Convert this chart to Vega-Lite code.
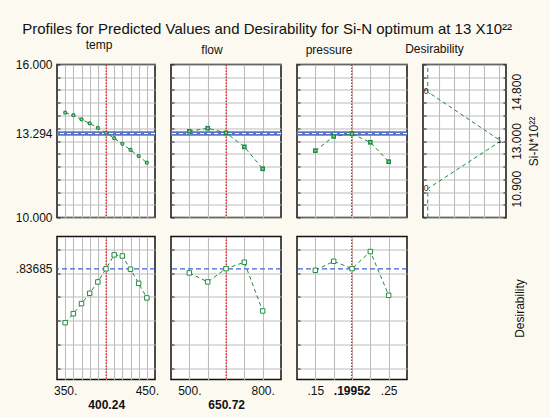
{
  "$schema": "https://vega.github.io/schema/vega-lite/v6.json",
  "background": "#FCF9F0",
  "padding": {"left": 14, "top": 21.5, "right": 10, "bottom": 5},
  "title": {"text": "Profiles for Predicted Values and Desirability for Si-N optimum at 13 X10²²", "fontSize": 15, "fontWeight": "normal", "font": "Liberation Sans", "color": "#111111", "anchor": "middle", "dx": -10, "offset": 1},
  "datasets": {
    "temp": [
      {"x": 350, "si": 14.11, "des": 0.383},
      {"x": 360, "si": 14.01, "des": 0.459},
      {"x": 370, "si": 13.85, "des": 0.544},
      {"x": 380, "si": 13.69, "des": 0.631},
      {"x": 390, "si": 13.51, "des": 0.727},
      {"x": 400, "si": 13.32, "des": 0.837},
      {"x": 410, "si": 13.11, "des": 0.955},
      {"x": 420, "si": 12.89, "des": 0.946},
      {"x": 430, "si": 12.65, "des": 0.834},
      {"x": 440, "si": 12.41, "des": 0.715},
      {"x": 450, "si": 12.15, "des": 0.592}
    ],
    "flow": [
      {"x": 500, "si": 13.38, "des": 0.803},
      {"x": 575, "si": 13.5, "des": 0.727},
      {"x": 650, "si": 13.32, "des": 0.839},
      {"x": 725, "si": 12.77, "des": 0.893},
      {"x": 800, "si": 11.91, "des": 0.482}
    ],
    "pressure": [
      {"x": 0.15, "si": 12.62, "des": 0.825},
      {"x": 0.175, "si": 13.18, "des": 0.901},
      {"x": 0.2, "si": 13.28, "des": 0.839},
      {"x": 0.225, "si": 12.95, "des": 0.983},
      {"x": 0.25, "si": 12.19, "des": 0.614}
    ],
    "opt": [{"temp": 400.24, "flow": 650.72, "pressure": 0.19952, "si": 13.294, "des": 0.83685}],
    "dfun": [
      {"i": 0, "d": 0, "si": 10},
      {"i": 1, "d": 0, "si": 11.13},
      {"i": 2, "d": 1, "si": 13},
      {"i": 3, "d": 0, "si": 14.93},
      {"i": 4, "d": 0, "si": 16}
    ],
    "dlab": [
      {"d": 0, "si": 11.13, "lab": "0."},
      {"d": 1, "si": 13, "lab": "1."},
      {"d": 0, "si": 14.93, "lab": "0."}
    ]
  },
  "columns": 4,
  "align": "each",
  "bounds": "flush",
  "spacing": {"row": 19, "column": 16},
  "concat": [
    {
      "width": 98, "height": 153,
      "title": {"text": "temp", "fontSize": 12, "fontWeight": "normal", "dx": -7, "offset": 7, "anchor": "middle"},
      "layer": [
        {"data": {"name": "opt"}, "mark": {"type": "rule", "color": "#5a74c6", "strokeWidth": 4.5},
         "encoding": {"y": {"field": "si", "type": "quantitative", "title": null, "scale": {"domain": [10, 16], "nice": false, "zero": false},
           "axis": {"values": [10, 10.5, 11, 11.5, 12, 12.5, 13, 13.5, 14, 14.5, 15, 15.5, 16, 13.294], "tickCount": 1000, "labelExpr": "datum.value == 10 || datum.value == 16 || datum.value == 13.294 ? format(datum.value, '.3f') : ''", "labelOverlap": false, "gridOpacity": {"condition": {"test": "datum.value == 13.294", "value": 0}, "value": 1}, "tickOpacity": {"condition": {"test": "datum.value == 13.294", "value": 0}, "value": 1}, "title": null, "labelPadding": 8}}}},
        {"data": {"name": "opt"}, "mark": {"type": "rule", "color": "#ffffff", "strokeWidth": 1.2, "strokeDash": [4, 3]},
         "encoding": {"y": {"field": "si", "type": "quantitative", "title": null}}},
        {"data": {"name": "opt"}, "mark": {"type": "rule", "color": "#ff1a1a", "strokeWidth": 1.3, "strokeDash": [1.5, 1.5]},
         "encoding": {"x": {"field": "temp", "type": "quantitative", "title": null, "scale": {"domain": [340, 460], "nice": false, "zero": false},
           "axis": {"values": [350, 360, 370, 380, 390, 400, 410, 420, 430, 440, 450], "tickCount": 1000, "labels": false, "ticks": false, "grid": true, "title": null}}}},
        {"data": {"name": "temp"}, "mark": {"type": "line", "color": "#1f8a3f", "strokeWidth": 1, "strokeDash": [4, 3]},
         "encoding": {"x": {"field": "x", "type": "quantitative", "title": null}, "y": {"field": "si", "type": "quantitative", "title": null}}},
        {"data": {"name": "temp"}, "mark": {"type": "point", "shape": "circle", "filled": true, "color": "#238c43", "size": 18, "opacity": 1},
         "encoding": {"x": {"field": "x", "type": "quantitative", "title": null}, "y": {"field": "si", "type": "quantitative", "title": null}}},
        {"data": {"name": "temp"}, "mark": {"type": "point", "shape": "circle", "filled": true, "color": "#9fd6ab", "size": 3, "opacity": 1},
         "encoding": {"x": {"field": "x", "type": "quantitative", "title": null}, "y": {"field": "si", "type": "quantitative", "title": null}}}
      ]
    },
    {
      "width": 110, "height": 153,
      "title": {"text": "flow", "fontSize": 12, "fontWeight": "normal", "dx": -14, "offset": 7, "anchor": "middle"},
      "layer": [
        {"data": {"name": "opt"}, "mark": {"type": "rule", "color": "#5a74c6", "strokeWidth": 4.5},
         "encoding": {"y": {"field": "si", "type": "quantitative", "title": null, "scale": {"domain": [10, 16], "nice": false, "zero": false},
           "axis": {"values": [10, 10.5, 11, 11.5, 12, 12.5, 13, 13.5, 14, 14.5, 15, 15.5, 16], "tickCount": 1000, "labels": false, "title": null}}}},
        {"data": {"name": "opt"}, "mark": {"type": "rule", "color": "#ffffff", "strokeWidth": 1.2, "strokeDash": [4, 3]},
         "encoding": {"y": {"field": "si", "type": "quantitative", "title": null}}},
        {"data": {"name": "opt"}, "mark": {"type": "rule", "color": "#ff1a1a", "strokeWidth": 1.3, "strokeDash": [1.5, 1.5]},
         "encoding": {"x": {"field": "flow", "type": "quantitative", "title": null, "scale": {"domain": [425, 875], "nice": false, "zero": false},
           "axis": {"values": [500, 575, 650, 725, 800], "tickCount": 1000, "labels": false, "ticks": false, "grid": true, "title": null}}}},
        {"data": {"name": "flow"}, "mark": {"type": "line", "color": "#1f8a3f", "strokeWidth": 1, "strokeDash": [4, 3]},
         "encoding": {"x": {"field": "x", "type": "quantitative", "title": null}, "y": {"field": "si", "type": "quantitative", "title": null}}},
        {"data": {"name": "flow"}, "mark": {"type": "point", "shape": "square", "filled": true, "color": "#238c43", "size": 22, "opacity": 1},
         "encoding": {"x": {"field": "x", "type": "quantitative", "title": null}, "y": {"field": "si", "type": "quantitative", "title": null}}},
        {"data": {"name": "flow"}, "mark": {"type": "point", "shape": "square", "filled": true, "color": "#9fd6ab", "size": 3, "opacity": 1},
         "encoding": {"x": {"field": "x", "type": "quantitative", "title": null}, "y": {"field": "si", "type": "quantitative", "title": null}}}
      ]
    },
    {
      "width": 110, "height": 153,
      "title": {"text": "pressure", "fontSize": 12, "fontWeight": "normal", "dx": -23, "offset": 7, "anchor": "middle"},
      "layer": [
        {"data": {"name": "opt"}, "mark": {"type": "rule", "color": "#5a74c6", "strokeWidth": 4.5},
         "encoding": {"y": {"field": "si", "type": "quantitative", "title": null, "scale": {"domain": [10, 16], "nice": false, "zero": false},
           "axis": {"values": [10, 10.5, 11, 11.5, 12, 12.5, 13, 13.5, 14, 14.5, 15, 15.5, 16], "tickCount": 1000, "labels": false, "title": null}}}},
        {"data": {"name": "opt"}, "mark": {"type": "rule", "color": "#ffffff", "strokeWidth": 1.2, "strokeDash": [4, 3]},
         "encoding": {"y": {"field": "si", "type": "quantitative", "title": null}}},
        {"data": {"name": "opt"}, "mark": {"type": "rule", "color": "#ff1a1a", "strokeWidth": 1.3, "strokeDash": [1.5, 1.5]},
         "encoding": {"x": {"field": "pressure", "type": "quantitative", "title": null, "scale": {"domain": [0.125, 0.275], "nice": false, "zero": false},
           "axis": {"values": [0.15, 0.175, 0.2, 0.225, 0.25], "tickCount": 1000, "labels": false, "ticks": false, "grid": true, "title": null}}}},
        {"data": {"name": "pressure"}, "mark": {"type": "line", "color": "#1f8a3f", "strokeWidth": 1, "strokeDash": [4, 3]},
         "encoding": {"x": {"field": "x", "type": "quantitative", "title": null}, "y": {"field": "si", "type": "quantitative", "title": null}}},
        {"data": {"name": "pressure"}, "mark": {"type": "point", "shape": "square", "filled": true, "color": "#238c43", "size": 22, "opacity": 1},
         "encoding": {"x": {"field": "x", "type": "quantitative", "title": null}, "y": {"field": "si", "type": "quantitative", "title": null}}},
        {"data": {"name": "pressure"}, "mark": {"type": "point", "shape": "square", "filled": true, "color": "#9fd6ab", "size": 3, "opacity": 1},
         "encoding": {"x": {"field": "x", "type": "quantitative", "title": null}, "y": {"field": "si", "type": "quantitative", "title": null}}}
      ]
    },
    {
      "width": 83, "height": 153,
      "title": {"text": "Desirability", "fontSize": 12, "fontWeight": "normal", "dx": -30, "offset": 7, "anchor": "middle"},
      "resolve": {"axis": {"y": "independent"}},
      "layer": [
        {"data": {"name": "dfun"}, "mark": {"type": "line", "color": "#1f8a3f", "strokeWidth": 1, "strokeDash": [4, 3]},
         "encoding": {
           "x": {"field": "d", "type": "quantitative", "title": null, "scale": {"domain": [-0.065, 1.07], "nice": false, "zero": false},
             "axis": {"values": [0.16, 0.36, 0.56, 0.765, 0.97], "tickCount": 1000, "labels": false, "ticks": false, "grid": true, "title": null}},
           "y": {"field": "si", "type": "quantitative", "title": null, "scale": {"domain": [10, 16], "nice": false, "zero": false},
             "axis": {"values": [10, 10.5, 11, 11.5, 12, 12.5, 13, 13.5, 14, 14.5, 15, 15.5, 16], "tickCount": 1000, "labels": false, "title": null}},
           "order": {"field": "i"}
         }},
        {"data": {"name": "dlab"}, "mark": {"type": "text", "fontSize": 8.5, "color": "#333333", "align": "left", "baseline": "middle", "dx": -4, "dy": -1},
         "encoding": {
           "x": {"field": "d", "type": "quantitative", "title": null},
           "y": {"field": "si", "type": "quantitative", "title": null,
             "axis": {"orient": "right", "values": [10, 10.5, 11, 11.5, 12, 12.5, 13, 13.5, 14, 14.5, 15, 15.5, 16, 11.13, 14.93], "tickCount": 1000, "labelExpr": "datum.value == 11.13 ? '10.900' : datum.value == 13 ? '13.000' : datum.value == 14.93 ? '14.800' : ''", "labelOverlap": false, "tickOpacity": {"condition": {"test": "datum.value == 11.13 || datum.value == 14.93", "value": 0}, "value": 1}, "grid": false, "labelAngle": -90, "labelAlign": "center", "labelBaseline": "top", "labelPadding": 8, "title": "Si-N*10²²", "titleAngle": -90, "titleBaseline": "top", "titleFontSize": 12, "titleFontWeight": "normal", "titleColor": "#111111", "titlePadding": 6}},
           "text": {"field": "lab"}
         }}
      ]
    },
    {
      "width": 98, "height": 143,
      "layer": [
        {"data": {"name": "opt"}, "mark": {"type": "rule", "color": "#3f63d8", "strokeWidth": 1.2, "strokeDash": [5, 3]},
         "encoding": {"y": {"field": "des", "type": "quantitative", "title": null, "scale": {"domain": [-0.096, 1.11], "nice": false, "zero": false},
           "axis": {"values": [0, 0.2, 0.4, 0.6, 0.8, 1, 0.83685], "tickCount": 1000, "labelExpr": "datum.value == 0.83685 ? '.83685' : ''", "labelOverlap": false, "gridOpacity": {"condition": {"test": "datum.value == 0.83685", "value": 0}, "value": 1}, "tickOpacity": {"condition": {"test": "datum.value == 0.83685", "value": 0}, "value": 1}, "title": null, "labelPadding": 8}}}},
        {"data": {"name": "opt"}, "mark": {"type": "rule", "color": "#ff1a1a", "strokeWidth": 1.3, "strokeDash": [1.5, 1.5]},
         "encoding": {"x": {"field": "temp", "type": "quantitative", "title": null, "scale": {"domain": [340, 460], "nice": false, "zero": false},
           "axis": {"values": [350, 360, 370, 380, 390, 400, 410, 420, 430, 440, 450, 400.24], "tickCount": 1000, "labelExpr": "datum.value == 350 ? '350.' : datum.value == 450 ? '450.' : datum.value == 400.24 ? '400.24' : ''", "labelOverlap": false, "labelFontWeight": {"condition": {"test": "datum.value == 400.24", "value": "bold"}, "value": "normal"}, "labelPadding": {"condition": {"test": "datum.value == 400.24", "value": 20}, "value": 6}, "gridOpacity": {"condition": {"test": "datum.value == 400.24", "value": 0}, "value": 1}, "ticks": false, "title": null}}}},
        {"data": {"name": "temp"}, "mark": {"type": "line", "color": "#1f8a3f", "strokeWidth": 1, "strokeDash": [4, 3]},
         "encoding": {"x": {"field": "x", "type": "quantitative", "title": null}, "y": {"field": "des", "type": "quantitative", "title": null}}},
        {"data": {"name": "temp"}, "mark": {"type": "point", "shape": "square", "filled": true, "fill": "#ffffff", "stroke": "#238c43", "strokeWidth": 1, "size": 20, "opacity": 1},
         "encoding": {"x": {"field": "x", "type": "quantitative", "title": null}, "y": {"field": "des", "type": "quantitative", "title": null}}}
      ]
    },
    {
      "width": 110, "height": 143,
      "layer": [
        {"data": {"name": "opt"}, "mark": {"type": "rule", "color": "#3f63d8", "strokeWidth": 1.2, "strokeDash": [5, 3]},
         "encoding": {"y": {"field": "des", "type": "quantitative", "title": null, "scale": {"domain": [-0.096, 1.11], "nice": false, "zero": false},
           "axis": {"values": [0, 0.2, 0.4, 0.6, 0.8, 1], "tickCount": 1000, "labels": false, "title": null}}}},
        {"data": {"name": "opt"}, "mark": {"type": "rule", "color": "#ff1a1a", "strokeWidth": 1.3, "strokeDash": [1.5, 1.5]},
         "encoding": {"x": {"field": "flow", "type": "quantitative", "title": null, "scale": {"domain": [425, 875], "nice": false, "zero": false},
           "axis": {"values": [500, 575, 650, 725, 800, 650.72], "tickCount": 1000, "labelExpr": "datum.value == 500 ? '500.' : datum.value == 800 ? '800.' : datum.value == 650.72 ? '650.72' : ''", "labelOverlap": false, "labelFontWeight": {"condition": {"test": "datum.value == 650.72", "value": "bold"}, "value": "normal"}, "labelPadding": {"condition": {"test": "datum.value == 650.72", "value": 20}, "value": 6}, "gridOpacity": {"condition": {"test": "datum.value == 650.72", "value": 0}, "value": 1}, "ticks": false, "title": null}}}},
        {"data": {"name": "flow"}, "mark": {"type": "line", "color": "#1f8a3f", "strokeWidth": 1, "strokeDash": [4, 3]},
         "encoding": {"x": {"field": "x", "type": "quantitative", "title": null}, "y": {"field": "des", "type": "quantitative", "title": null}}},
        {"data": {"name": "flow"}, "mark": {"type": "point", "shape": "square", "filled": true, "fill": "#ffffff", "stroke": "#238c43", "strokeWidth": 1, "size": 20, "opacity": 1},
         "encoding": {"x": {"field": "x", "type": "quantitative", "title": null}, "y": {"field": "des", "type": "quantitative", "title": null}}}
      ]
    },
    {
      "width": 110, "height": 143,
      "layer": [
        {"data": {"name": "opt"}, "mark": {"type": "rule", "color": "#3f63d8", "strokeWidth": 1.2, "strokeDash": [5, 3]},
         "encoding": {"y": {"field": "des", "type": "quantitative", "title": null, "scale": {"domain": [-0.096, 1.11], "nice": false, "zero": false},
           "axis": {"values": [0, 0.2, 0.4, 0.6, 0.8, 1], "tickCount": 1000, "labels": false, "title": null}}}},
        {"data": {"name": "opt"}, "mark": {"type": "rule", "color": "#ff1a1a", "strokeWidth": 1.3, "strokeDash": [1.5, 1.5]},
         "encoding": {"x": {"field": "pressure", "type": "quantitative", "title": null, "scale": {"domain": [0.125, 0.275], "nice": false, "zero": false},
           "axis": {"values": [0.15, 0.175, 0.2, 0.225, 0.25, 0.19952], "tickCount": 1000, "labelExpr": "datum.value == 0.15 ? '.15' : datum.value == 0.25 ? '.25' : datum.value == 0.19952 ? '.19952' : ''", "labelOverlap": false, "labelFontWeight": {"condition": {"test": "datum.value == 0.19952", "value": "bold"}, "value": "normal"}, "labelPadding": 6, "gridOpacity": {"condition": {"test": "datum.value == 0.19952", "value": 0}, "value": 1}, "ticks": false, "title": null}}}},
        {"data": {"name": "pressure"}, "mark": {"type": "line", "color": "#1f8a3f", "strokeWidth": 1, "strokeDash": [4, 3]},
         "encoding": {"x": {"field": "x", "type": "quantitative", "title": null}, "y": {"field": "des", "type": "quantitative", "title": null}}},
        {"data": {"name": "pressure"}, "mark": {"type": "point", "shape": "square", "filled": true, "fill": "#ffffff", "stroke": "#238c43", "strokeWidth": 1, "size": 20, "opacity": 1},
         "encoding": {"x": {"field": "x", "type": "quantitative", "title": null}, "y": {"field": "des", "type": "quantitative", "title": null}}}
      ]
    },
    {
      "width": 83, "height": 143,
      "view": {"stroke": null, "fill": null},
      "data": {"values": [{}]},
      "mark": {"type": "text", "text": ""},
      "encoding": {
        "y": {"datum": 0, "type": "quantitative",
          "axis": {"orient": "right", "title": "Desirability", "labels": false, "ticks": false, "grid": false, "domain": false, "titleAngle": -90, "titleBaseline": "top", "titlePadding": 8, "titleFontSize": 12, "titleFontWeight": "normal", "titleColor": "#111111"}}
      }
    }
  ],
  "config": {
    "font": "Liberation Sans",
    "view": {"fill": "#ffffff", "stroke": "#111111", "strokeWidth": 1.5},
    "axis": {"domain": false, "gridColor": "#bcbcbc", "gridWidth": 1.1, "labelFontSize": 12, "labelColor": "#111111", "labelFont": "Liberation Sans", "labelOverlap": false, "labelFlush": false, "tickColor": "#222222", "tickSize": -3, "tickWidth": 1, "tickCount": 1000, "titleFont": "Liberation Sans"},
    "title": {"font": "Liberation Sans", "color": "#111111"}
  }
}
